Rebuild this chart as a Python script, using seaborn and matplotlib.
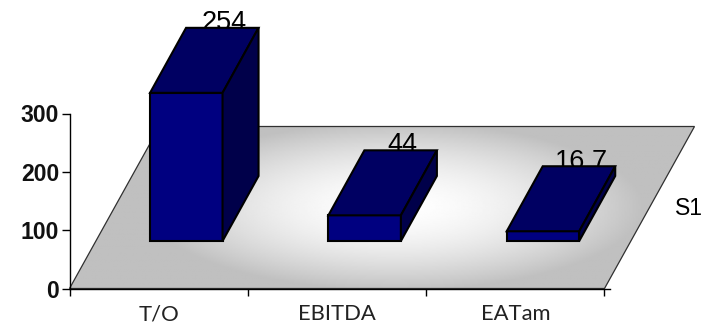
import numpy as np
import matplotlib
matplotlib.use("Agg")
import matplotlib.pyplot as plt
from matplotlib.patches import Polygon
import pandas as pd
import seaborn as sns

categories = ["T/O", "EBITDA", "EATam"]
values = [254, 44, 16.7]
value_labels = ["254", "44", "16,7"]
series_name = "S1"
yticks = [0, 100, 200, 300]

W, H = 704, 324
sns.set_theme(style="white")
plt.rcParams["font.family"] = ["Liberation Sans", "DejaVu Sans"]

fig = plt.figure(figsize=(W / 100, H / 100), dpi=100)
left, right, top, bottom = 69.5, 604.5, 113.5, 288.5
ax = fig.add_axes([left / W, 1 - bottom / H, (right - left) / W, (bottom - top) / H])
ax.set_facecolor("none")

# conversion of pixel offsets (the oblique projection) into data units
ux = (right - left) / 3
uy = (bottom - top) / 300
FLOOR_DX, FLOOR_DY = 90 / ux, 162 / uy
BASE = 47.5 / uy
DX, DY = 36 / ux, 65 / uy
SHIFT = 0.155
WIDTH = 72.5 / ux

df = pd.DataFrame({"cat": categories, "val": values})
sns.barplot(data=df, x="cat", y="val", ax=ax, width=WIDTH, bottom=BASE,
            color="#000080", saturation=1, edgecolor="black", linewidth=1.5,
            zorder=4, clip_on=False)
ax.set_xlim(-0.5, 2.5)
ax.set_ylim(0, 300)

# floor
x0, x1 = -0.5, 2.5
floor = Polygon([(x0, 0), (x1, 0), (x1 + FLOOR_DX, FLOOR_DY), (x0 + FLOOR_DX, FLOOR_DY)],
                closed=True, facecolor="none", edgecolor="#303030", lw=0.9,
                zorder=2, clip_on=False)
ax.add_patch(floor)
gy, gx = np.mgrid[0:1:200j, 0:1:400j]
r = np.sqrt(((gx - 0.52) / 0.40) ** 2 + ((gy - 0.5) / 0.52) ** 2)
shade = np.clip(r, 0, 1) ** 1.7
img = ax.imshow(1 - 0.25 * shade, cmap="gray", vmin=0, vmax=1, origin="lower",
                extent=(x0, x1 + FLOOR_DX, 0, FLOOR_DY), aspect="auto",
                zorder=1)
img.set_clip_box(fig.bbox)
img.set_clip_path(floor)
ax.set_xlim(-0.5, 2.5)
ax.set_ylim(0, 300)

# 3-D faces built from the bars
for bar, label in zip(ax.patches, value_labels):
    bar.set_x(bar.get_x() + SHIFT)
    xa, xb = bar.get_x(), bar.get_x() + bar.get_width()
    yb, yt = bar.get_y(), bar.get_y() + bar.get_height()
    kw = dict(closed=True, edgecolor="black", lw=1.5, joinstyle="miter",
              zorder=4, clip_on=False)
    ax.add_patch(Polygon([(xa, yt), (xb, yt), (xb + DX, yt + DY), (xa + DX, yt + DY)],
                         facecolor="#000062", **kw))
    ax.add_patch(Polygon([(xb, yb), (xb + DX, yb + DY), (xb + DX, yt + DY), (xb, yt)],
                         facecolor="#00004a", **kw))
    ax.text((xa + xb) / 2 + DX + 2 / ux, yt + DY - 2 / uy, label, ha="center", va="baseline",
            fontsize=19.5, color="black", zorder=3, clip_on=False)

# axes
sns.despine(ax=ax, top=True, right=True)
for s in ("left", "bottom"):
    ax.spines[s].set_color("black")
    ax.spines[s].set_linewidth(1.0)
    ax.spines[s].set_zorder(5)
ax.spines["bottom"].set_bounds(-0.5, 2.5 + 6 / ux)
ax.set_yticks(yticks)
ax.set_yticklabels([str(v) for v in yticks], fontsize=16.6, fontweight="bold", color="#111111")
ax.set_xticks([-0.5, 0.5, 1.5, 2.5])
ax.set_xticklabels([])
ax.set_xticks(range(len(categories)), labels=categories, minor=True,
              fontsize=15.8, family=["Lato", "DejaVu Sans"], color="#222222")
ax.tick_params(axis="y", which="major", left=True, length=5.5, width=1.0, color="black", pad=2)
ax.tick_params(axis="x", which="major", bottom=True, length=5, width=1.0, color="black")
ax.tick_params(axis="x", which="minor", bottom=False, length=0, pad=11.5)
ax.set_xlabel("")
ax.set_ylabel("")

fig.text(688.5 / W, 1 - 215 / H, series_name, ha="center", va="baseline",
         fontsize=16.6, color="black")

fig.savefig("out.png", dpi=100)
